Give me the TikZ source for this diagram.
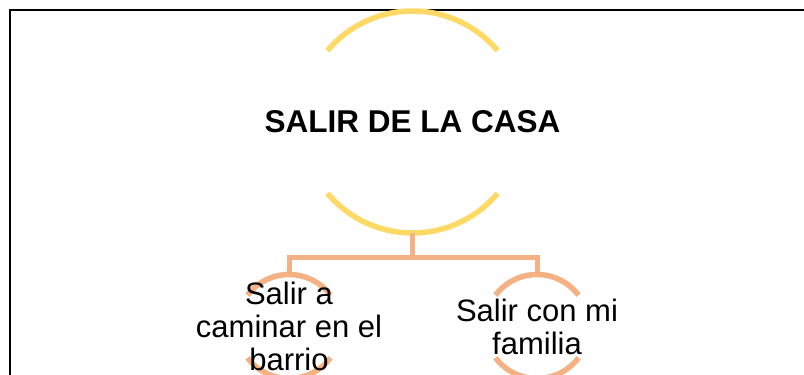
\documentclass[tikz,border=0pt]{standalone}
\usepackage{fontspec}
\setmainfont{Liberation Sans}
\usetikzlibrary{positioning}
\definecolor{ringyellow}{HTML}{FFD966}
\definecolor{ringorange}{HTML}{F4B183}

\begin{document}
\begin{tikzpicture}[x=1pt,y=1pt,
ring/.style={circle,inner sep=0pt,outer sep=0pt},
arcline/.style={line width=5.5pt},
conn/.style={ringorange,line width=5pt},
txt/.style={align=center,inner sep=0pt,font=\fontsize{31}{33}\selectfont}]
\useasboundingbox (0,0) rectangle (804,-375);
\draw[line width=2pt] (9.5,-375) -- (9.5,-10) -- (804,-10);
\node[ring,minimum size=222pt] (casa) at (412.5,-122) {};
\node[ring,minimum size=104pt] (barrio) at (289,-326.5) {};
\node[ring,minimum size=104pt] (familia) at (537,-326.5) {};
\draw[arcline,ringyellow] (casa.40) arc[start angle=40,end angle=140,radius=111pt];
\draw[arcline,ringyellow] (casa.-40) arc[start angle=-40,end angle=-140,radius=111pt];
\foreach \n in {barrio,familia}{
  \draw[arcline,ringorange] (\n.37) arc[start angle=37,end angle=143,radius=52pt];
  \draw[arcline,ringorange] (\n.-37) arc[start angle=-37,end angle=-143,radius=52pt];
}
\coordinate (bus) at (412.5,-257);
\draw[conn] (casa.south) -- (bus) -| (barrio.north);
\draw[conn] (bus) -| (familia.north);
\node[font=\bfseries\fontsize{31.5}{33}\selectfont,inner sep=0pt] (casatxt) at (casa) {SALIR DE LA CASA};
\node[txt] (barriotxt) at (barrio) {Salir a\\caminar en el\\barrio};
\node[txt] (familiatxt) at (familia) {Salir con mi\\familia};
\end{tikzpicture}
\end{document}
